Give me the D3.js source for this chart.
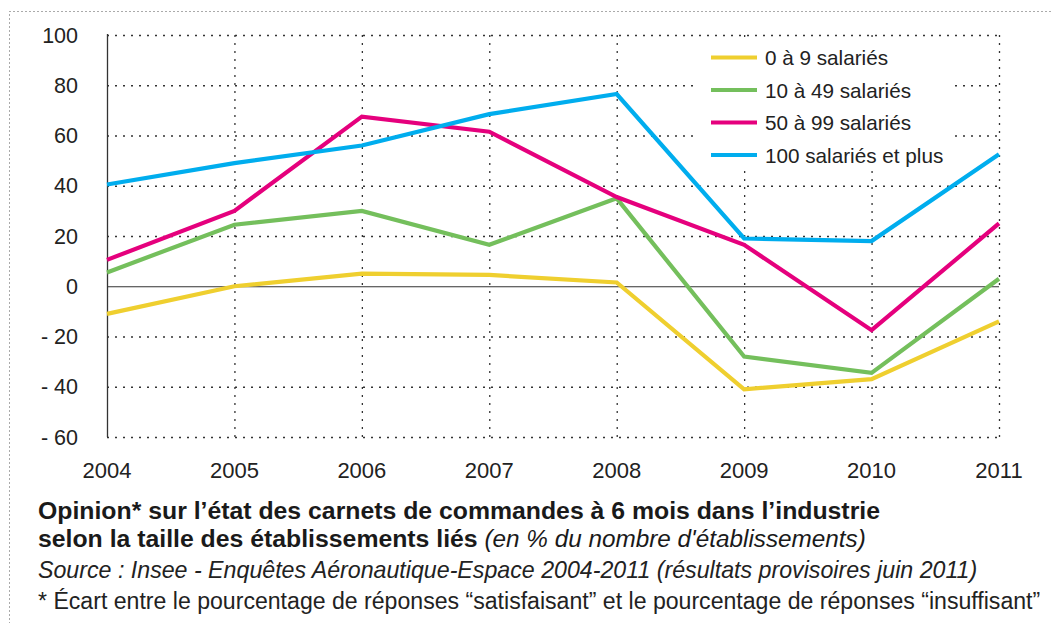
<!DOCTYPE html>
<html>
<head>
<meta charset="utf-8">
<script src="https://cdn.jsdelivr.net/npm/d3@7"></script>
<style>
  body { margin: 0; background: #fff; }
  svg { font-family: "Liberation Sans", Arial, sans-serif; }
</style>
</head>
<body>
<svg id="chart" width="1052" height="623"></svg>
<script>
// data
const years = [2004, 2005, 2006, 2007, 2008, 2009, 2010, 2011]
const yTicks = [-60, -40, -20, 0, 20, 40, 60, 80, 100]
const seriesNames = ['0 à 9 salariés', '10 à 49 salariés', '50 à 99 salariés', '100 salariés et plus']
const seriesColors = ['#efcf2f', '#74bf5c', '#e5007d', '#00adee']
const small = [-11, 0, 5, 4.5, 1.5, -41, -37, -14]
const medium = [5.5, 24.5, 30, 16.5, 35, -28, -34.5, 3]
const large = [10.5, 30, 67.5, 61.5, 35.5, 16.5, -17.5, 25]
const xlarge = [40.5, 49, 56, 68.5, 76.5, 19, 18, 52.5]
const seriesValues = [small, medium, large, xlarge]

const svg = d3.select('#chart')

// outer dotted frame
svg.append('rect')
  .attr('x', 9.5).attr('y', 11.5)
  .attr('width', 1100).attr('height', 700)
  .attr('fill', 'none')
  .attr('stroke', '#555')
  .attr('stroke-width', 1)
  .attr('stroke-dasharray', '1,3')

const x = d3.scalePoint().domain(years).range([107, 999])
const y = d3.scaleLinear().domain([-60, 100]).range([437, 35])

const grid = svg.append('g')
// horizontal dotted grid
grid.selectAll('line.h')
  .data(yTicks.filter(d => d !== 0))
  .enter().append('line')
  .attr('x1', 107).attr('x2', 999)
  .attr('y1', d => y(d) + 0.5).attr('y2', d => y(d) + 0.5)
  .attr('stroke', '#333').attr('stroke-width', 1.3)
  .attr('stroke-dasharray', '2,6')
// vertical dotted grid
grid.selectAll('line.v')
  .data(years.slice(1))
  .enter().append('line')
  .attr('x1', d => x(d) + 0.5).attr('x2', d => x(d) + 0.5)
  .attr('y1', 35).attr('y2', 437)
  .attr('stroke', '#333').attr('stroke-width', 1.3)
  .attr('stroke-dasharray', '2,6')

// legend box hides the grid behind it
svg.append('rect')
  .attr('x', 697).attr('y', 38)
  .attr('width', 258).attr('height', 132)
  .attr('fill', '#fff')

// solid axis + zero line
svg.append('line')
  .attr('x1', 107.5).attr('x2', 107.5).attr('y1', 34).attr('y2', 437)
  .attr('stroke', '#333').attr('stroke-width', 1.3)
svg.append('line')
  .attr('x1', 107).attr('x2', 999).attr('y1', y(0) + 0.5).attr('y2', y(0) + 0.5)
  .attr('stroke', '#333').attr('stroke-width', 1)

// tick labels
svg.append('g').selectAll('text')
  .data(yTicks)
  .enter().append('text')
  .attr('x', 78).attr('y', d => y(d) + 7.5)
  .attr('text-anchor', 'end')
  .attr('font-size', 21.5).attr('fill', '#222')
  .text(d => d < 0 ? '- ' + Math.abs(d) : d)

svg.append('g').selectAll('text')
  .data(years)
  .enter().append('text')
  .attr('x', d => x(d)).attr('y', 478)
  .attr('text-anchor', 'middle')
  .attr('font-size', 22).attr('fill', '#222')
  .text(d => d)

// lines
const line = d3.line()
  .x((d, i) => x(years[i]))
  .y(d => y(d))

svg.append('g').selectAll('path')
  .data(seriesValues)
  .enter().append('path')
  .attr('d', line)
  .attr('fill', 'none')
  .attr('stroke', (d, i) => seriesColors[i])
  .attr('stroke-width', 4.2)
  .attr('stroke-linejoin', 'miter')

// legend
const legend = svg.append('g').selectAll('g')
  .data(seriesNames)
  .enter().append('g')
  .attr('transform', (d, i) => 'translate(711,' + (57.5 + i * 32.5) + ')')
legend.append('line')
  .attr('x1', 0).attr('x2', 46)
  .attr('stroke', (d, i) => seriesColors[i])
  .attr('stroke-width', 4.2)
legend.append('text')
  .attr('x', 54).attr('y', 7.5)
  .attr('font-size', 20.7).attr('fill', '#222')
  .text(d => d)

// caption
const cap = svg.append('g').attr('fill', '#1a1a1a')
cap.append('text')
  .attr('x', 38).attr('y', 519)
  .attr('font-size', 24.8).attr('font-weight', 'bold')
  .text('Opinion* sur l’état des carnets de commandes à 6 mois dans l’industrie')
const l2 = cap.append('text')
  .attr('x', 38).attr('y', 547)
  .attr('font-size', 24.8)
l2.append('tspan').attr('font-weight', 'bold').text('selon la taille des établissements liés')
l2.append('tspan').attr('font-style', 'italic').attr('font-size', 24.3).text(' (en % du nombre d\'établissements)')
cap.append('text')
  .attr('x', 38).attr('y', 578)
  .attr('font-size', 23.2).attr('font-style', 'italic').attr('fill', '#222')
  .text('Source : Insee - Enquêtes Aéronautique-Espace 2004-2011 (résultats provisoires juin 2011)')
cap.append('text')
  .attr('x', 38).attr('y', 609)
  .attr('font-size', 23.1).attr('fill', '#222')
  .text('* Écart entre le pourcentage de réponses “satisfaisant” et le pourcentage de réponses “insuffisant”')
</script>
</body>
</html>
